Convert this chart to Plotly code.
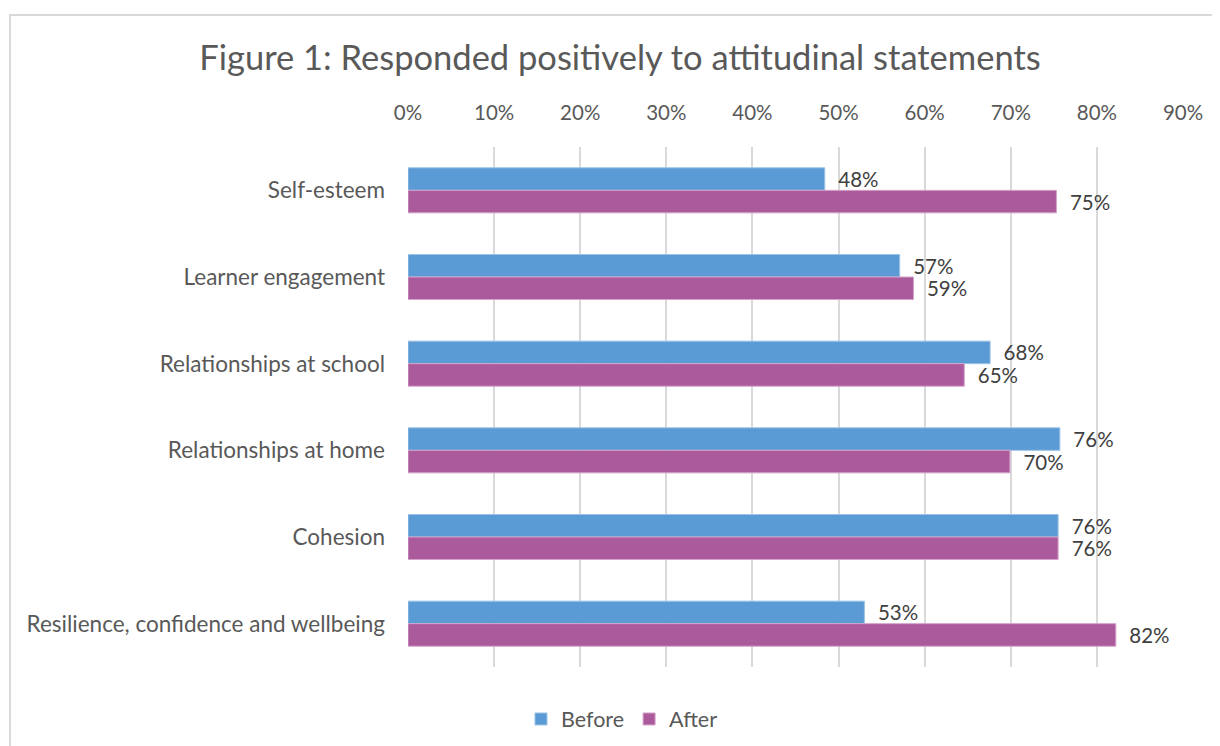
import plotly.graph_objects as go

categories = ["Self-esteem", "Learner engagement", "Relationships at school",
              "Relationships at home", "Cohesion", "Resilience, confidence and wellbeing"]
before = [0.484, 0.571, 0.676, 0.757, 0.755, 0.530]
after = [0.753, 0.587, 0.646, 0.699, 0.755, 0.822]
tick_vals = [0, 0.1, 0.2, 0.3, 0.4, 0.5, 0.6, 0.7, 0.8, 0.9]

FONT = "Lato, 'Open Sans', sans-serif"
# page body adds an 8px offset; compensate
W, H = 1212, 738
L, R, T, B = 400, 37, 139, 79
OFF = 8

def labels(vals):
    return ["\u00a0\u00a0" + f"{round(v*100)}%" for v in vals]

fig = go.Figure()
fig.add_trace(go.Bar(y=categories, x=before, name="Before", orientation="h",
                     marker=dict(color="#5B9BD5", line=dict(color="#9DC3E6", width=1)),
                     text=labels(before), textposition="outside", constraintext="none",
                     textfont=dict(size=20.5, color="#404040", family=FONT), cliponaxis=False))
fig.add_trace(go.Bar(y=categories, x=after, name="After", orientation="h",
                     marker=dict(color="#AB5B9B", line=dict(color="#D4A3CB", width=1)),
                     text=labels(after), textposition="outside", constraintext="none",
                     textfont=dict(size=20.5, color="#404040", family=FONT), cliponaxis=False))

fig.update_layout(
    width=W, height=H,
    margin=dict(l=L, r=R, t=T, b=B, pad=0, autoexpand=False),
    paper_bgcolor="white", plot_bgcolor="white",
    barmode="group", bargap=0.48, bargroupgap=0,
    font=dict(family=FONT, color="#595959"),
    title=dict(text="Figure 1: Responded positively to attitudinal statements",
               x=(620 - OFF) / W, xanchor="center", y=1 - (58 - OFF) / H, yanchor="middle",
               font=dict(size=34.5, color="#595959", family=FONT)),
    xaxis=dict(side="top", range=[0, 0.9], tickvals=tick_vals, tickformat=".0%",
               showgrid=True, gridcolor="#D9D9D9", gridwidth=2, zeroline=False,
               showline=False, ticks="", ticklabelstandoff=22, automargin=False,
               tickfont=dict(size=20.5, color="#595959")),
    yaxis=dict(range=[5.5, -0.5], showgrid=False, zeroline=False, showline=False,
               ticks="", ticklabelstandoff=22, automargin=False,
               tickfont=dict(size=22.5, color="#595959")),
    legend=dict(orientation="h", xref="container", x=(622 - OFF) / W, xanchor="center",
                yref="container", y=1 - (719 - OFF) / H, yanchor="middle",
                font=dict(size=21.5, color="#595959"), itemwidth=30, traceorder="normal"),
    showlegend=True,
    shapes=[dict(type="rect", xref="paper", yref="paper",
                 x0=(10 - OFF - L) / (W - L - R), x1=(1240 - L) / (W - L - R),
                 y0=-(B + 20) / (H - T - B), y1=1 + (T - (15 - OFF)) / (H - T - B),
                 line=dict(color="#D9D9D9", width=2), fillcolor="rgba(0,0,0,0)", layer="below")],
)

fig.write_html("out.html")
